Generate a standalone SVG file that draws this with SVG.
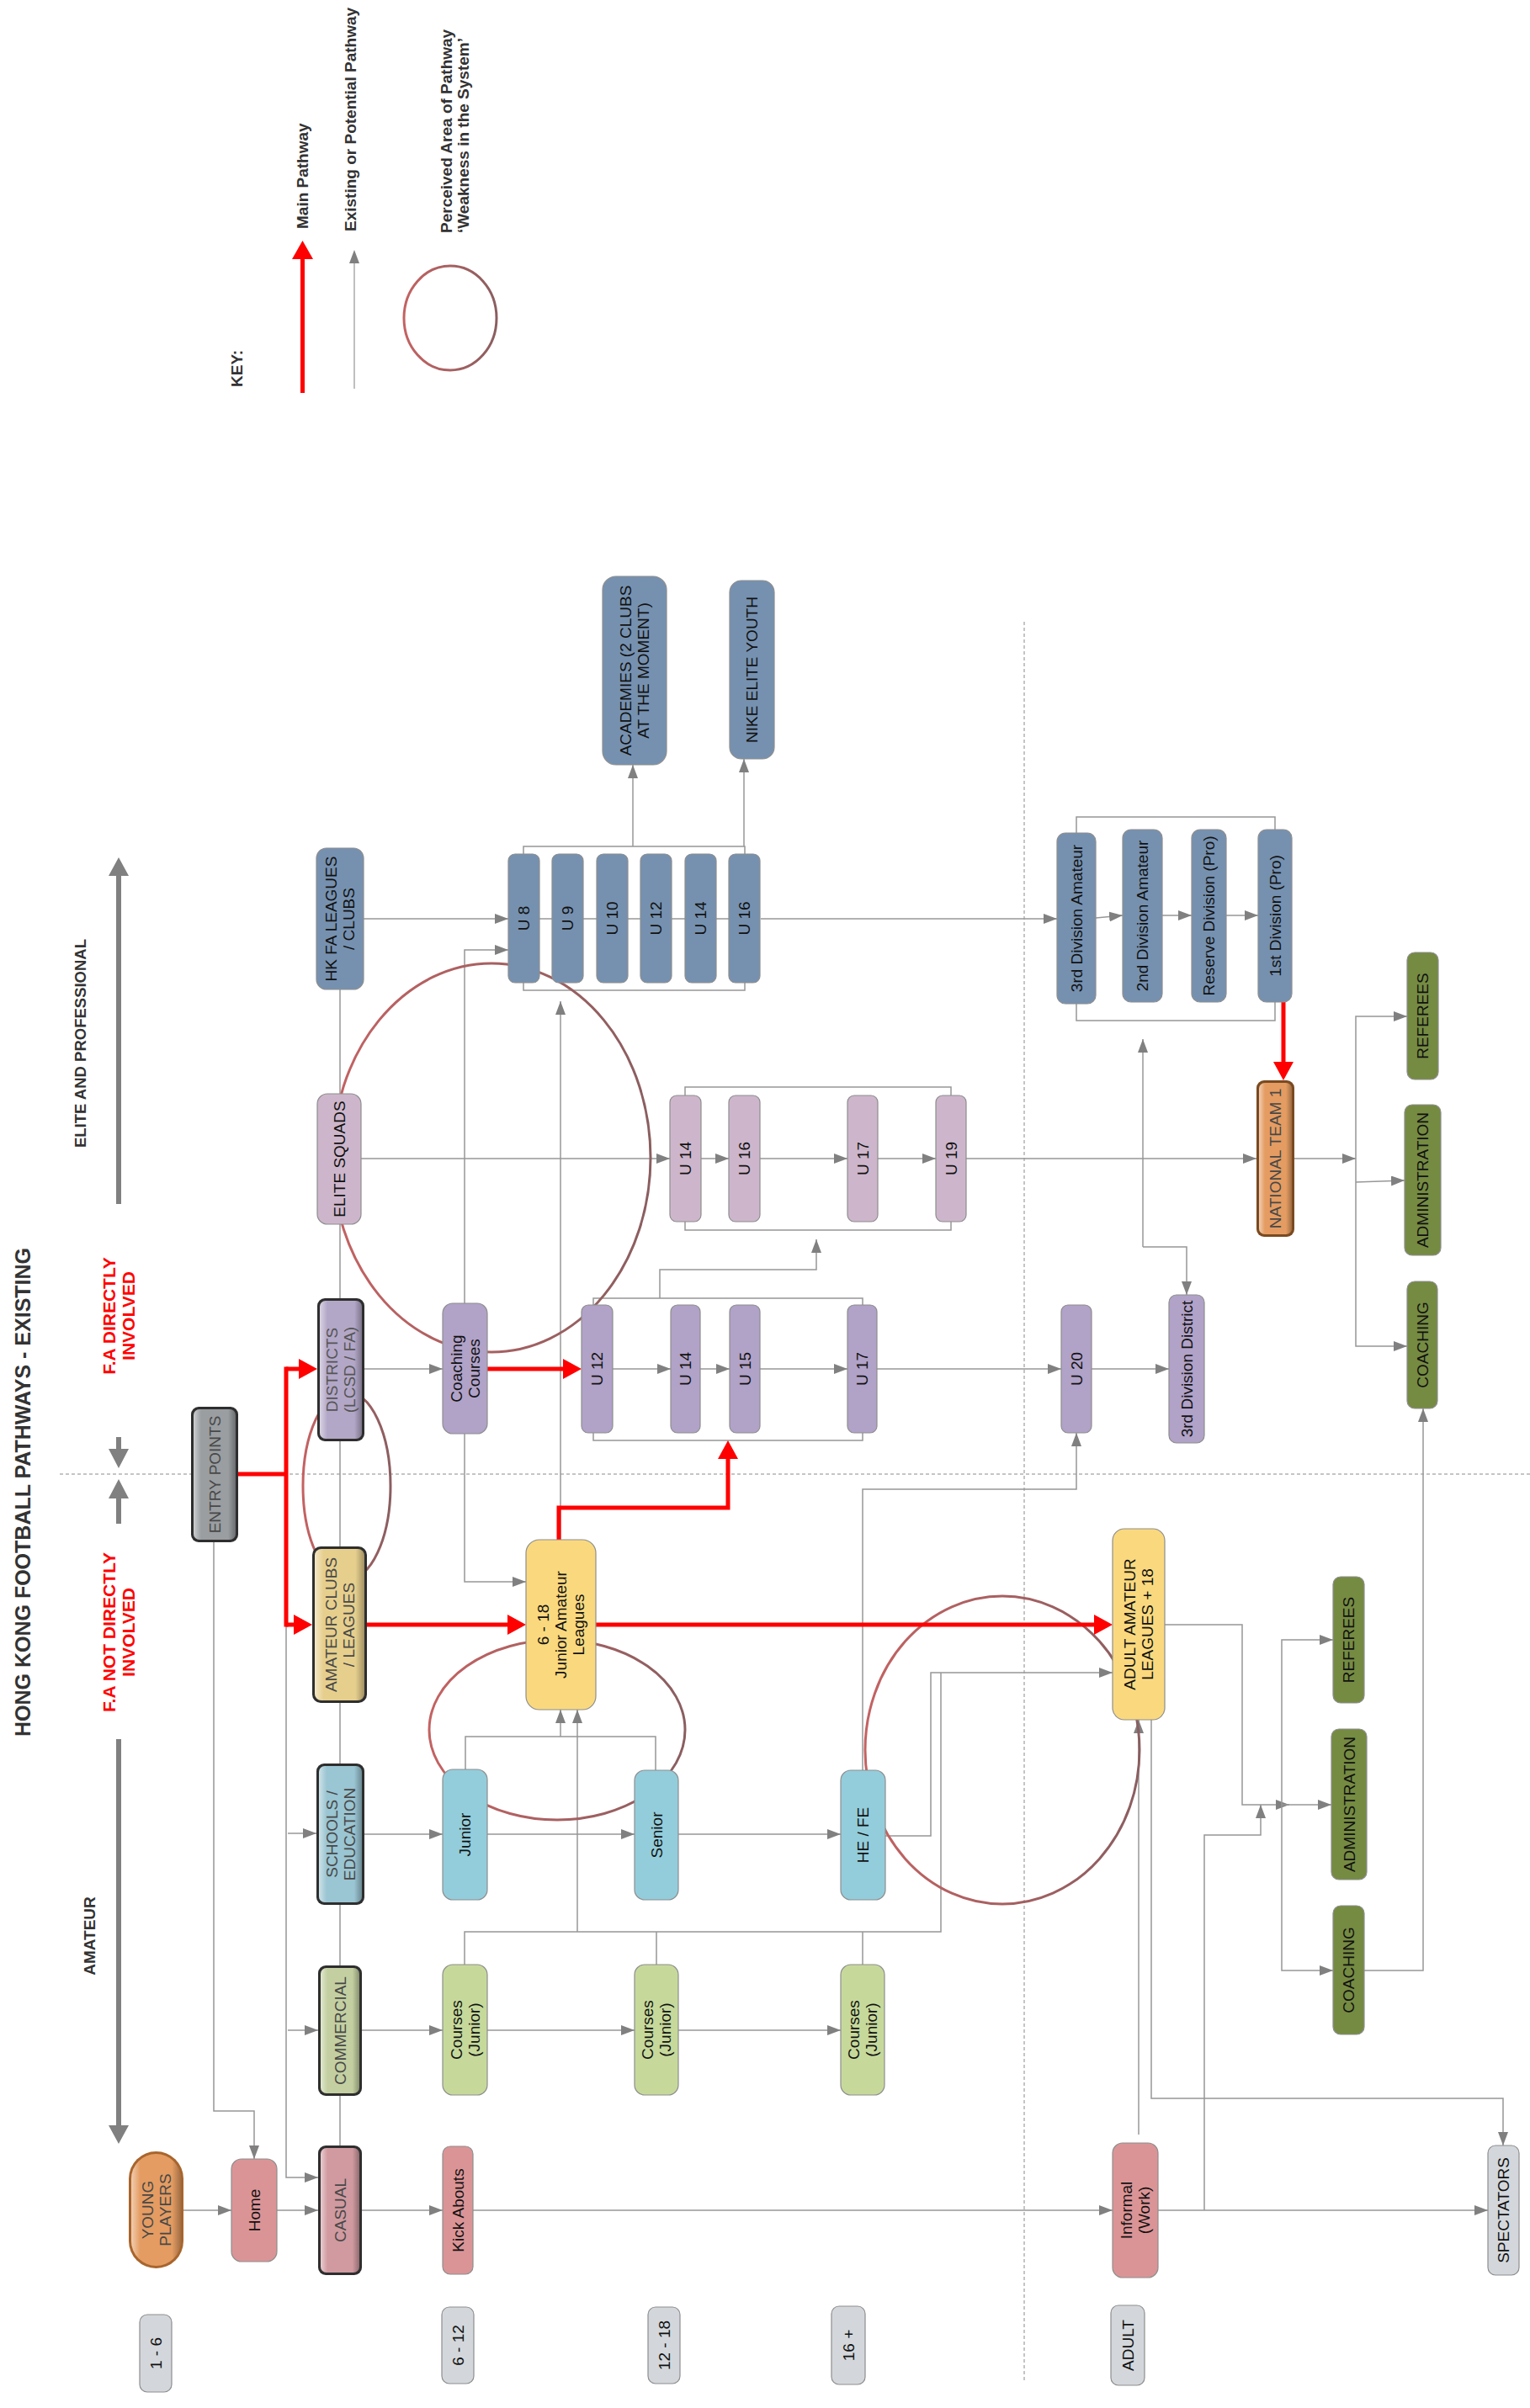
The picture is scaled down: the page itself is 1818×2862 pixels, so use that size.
<svg xmlns="http://www.w3.org/2000/svg" width="1818" height="2862" viewBox="0 0 1818 2862">
<defs>
<style>
text{font-family:'Liberation Sans',Arial,sans-serif;font-size:19px;fill:#111;text-anchor:middle}
.c{fill:none;stroke:#979797;stroke-width:1.5}
.ca{fill:none;stroke:#979797;stroke-width:1.5;marker-end:url(#ag)}
.r{fill:none;stroke:#ff0000;stroke-width:5}
.ra{fill:none;stroke:#ff0000;stroke-width:5;marker-end:url(#ar)}
.w{fill:none;stroke:url(#wk);stroke-width:3}
.d{fill:none;stroke:#8a8a8a;stroke-width:1;stroke-dasharray:4 3}
.n{stroke:#8e8e8e;stroke-width:1.2}
.blue{fill:#7691b0}
.mauve{fill:#cdb6cb}
.purp{fill:#b1a2c8}
.yel{fill:#fad97e}
.grn{fill:#758b42}
.cyan{fill:#93cddb}
.cgrn{fill:#c6d99b}
.pink{fill:#db9496}
.age{fill:#d3d7db}
.bo{fill:#2e2e2e}
.bov{fill:url(#bev)}
.bt{fill:#484848}
.hd{font-weight:bold;fill:#333;text-anchor:start}
.hm{font-weight:bold;fill:#333}
.red{font-weight:bold;fill:#ff0000;font-size:21px}
.ga{fill:#808080}
</style>
<linearGradient id="wk" x1="0" y1="0" x2="1" y2="0"><stop offset="0" stop-color="#c46262"/><stop offset="1" stop-color="#8a5e60"/></linearGradient>
<linearGradient id="bev" x1="0" y1="0" x2="1" y2="0"><stop offset="0" stop-color="#fff" stop-opacity="0.5"/><stop offset="0.18" stop-color="#fff" stop-opacity="0"/><stop offset="0.82" stop-color="#000" stop-opacity="0"/><stop offset="1" stop-color="#000" stop-opacity="0.3"/></linearGradient>
<marker id="ag" markerWidth="16" markerHeight="12" refX="16" refY="6" orient="auto" markerUnits="userSpaceOnUse"><path d="M0,0 L16,6 L0,12 z" fill="#808080"/></marker>
<marker id="ar" markerWidth="22" markerHeight="24" refX="10" refY="12" orient="auto" markerUnits="userSpaceOnUse"><path d="M0,0 L22,12 L0,24 z" fill="#ff0000"/></marker>
</defs>
<rect width="1818" height="2862" fill="#fff"/>

<g id="headers">
<text class="hd" font-size="25" transform="translate(36 2064) rotate(-90)" style="font-size:25px">HONG KONG FOOTBALL PATHWAYS - EXISTING</text>
<text class="hm" transform="translate(102 1240) rotate(-90)" style="font-size:18.5px">ELITE AND PROFESSIONAL</text>
<text class="hm" transform="translate(113 2301) rotate(-90)">AMATEUR</text>
<text class="red" transform="translate(0 1564) rotate(-90)"><tspan x="0" y="137">F.A DIRECTLY</tspan><tspan x="0" y="160">INVOLVED</tspan></text>
<text class="red" transform="translate(0 1940) rotate(-90)"><tspan x="0" y="137">F.A NOT DIRECTLY</tspan><tspan x="0" y="160">INVOLVED</tspan></text>
<path class="ga" d="M138,1431 V1041 H129 L141,1019 L153,1041 H144 V1431 z"/>
<path class="ga" d="M138,1708 V1722 H129 L141,1745 L153,1722 H144 V1708 z"/>
<path class="ga" d="M138,1811 V1781 H129 L141,1758 L153,1781 H144 V1811 z"/>
<path class="ga" d="M138,2067 V2526 H129 L141,2548 L153,2526 H144 V2067 z"/>
</g>

<g id="key">
<text class="hd" transform="translate(288 460) rotate(-90)">KEY:</text>
<path d="M359.5,467 V306" stroke="#ff0000" stroke-width="5" fill="none"/>
<path d="M347,308 L359.5,286 L372,308 z" fill="#ff0000"/>
<path d="M421,462 V312" stroke="#aaaaaa" stroke-width="1.5" fill="none"/>
<path d="M415,313 L421,297 L427,313 z" fill="#808080"/>
<text class="hd" transform="translate(366 272) rotate(-90)">Main Pathway</text>
<text class="hd" transform="translate(423 275) rotate(-90)">Existing or Potential Pathway</text>
<text class="hd" transform="translate(0 277) rotate(-90)"><tspan x="0" y="537">Perceived Area of Pathway</tspan><tspan x="0" y="557">‘Weakness in the System’</tspan></text>
<ellipse class="w" cx="535" cy="378" rx="55" ry="62"/>
</g>

<g id="dividers">
<path class="d" d="M71,1752 H1818"/>
<path class="d" d="M1217,739 V2832"/>
</g>

<g id="connectors">
<path class="ca" d="M218,2627 H275"/>
<path class="ca" d="M329,2627 H378"/>
<path class="ca" d="M430,2627 H526"/>
<path class="ca" d="M562,2627 H1322"/>
<path class="ca" d="M1376,2627 H1768"/>
<path class="ca" d="M254,1833 V2509 H302 V2566"/>
<path class="ca" d="M340,1931 V2588 H378"/>
<path class="ca" d="M342,2179 H376"/>
<path class="ca" d="M342,2413 H378"/>
<path class="c" d="M404,1176 V2550"/>
<path class="ca" d="M432,1092 H604"/>
<path class="c" d="M640,1092 H866"/>
<path class="ca" d="M904,1092 H1256"/>
<path class="c" d="M622,1015 V1006 H885 V1015"/>
<path class="c" d="M622,1168 V1177 H885 V1168"/>
<path class="ca" d="M752,1006 V909"/>
<path class="ca" d="M884,1006 V902"/>
<path class="ca" d="M552,1549 V1129 H604"/>
<path class="ca" d="M552,1704 V1880 H625"/>
<path class="ca" d="M666,1830 V1190"/>
<path class="ca" d="M429,1377 H796"/>
<path class="ca" d="M833,1377 H866"/>
<path class="ca" d="M903,1377 H1007"/>
<path class="ca" d="M1043,1377 H1112"/>
<path class="ca" d="M1148,1377 H1493"/>
<path class="c" d="M814,1302 V1292 H1130 V1302"/>
<path class="c" d="M814,1452 V1462 H1130 V1452"/>
<path class="ca" d="M784,1543 V1509 H970 V1473"/>
<path class="c" d="M705,1551 V1543 H1025 V1551"/>
<path class="c" d="M705,1703 V1712 H1025 V1703"/>
<path class="ca" d="M433,1627 H526"/>
<path class="ca" d="M728,1627 H797"/>
<path class="ca" d="M831,1627 H867"/>
<path class="ca" d="M903,1627 H1007"/>
<path class="ca" d="M1042,1627 H1261"/>
<path class="ca" d="M1297,1627 H1389"/>
<path class="ca" d="M433,2180 H526"/>
<path class="ca" d="M579,2180 H754"/>
<path class="ca" d="M806,2180 H999"/>
<path class="c" d="M553,2103 V2064 H779 V2104"/>
<path class="ca" d="M666,2064 V2032"/>
<path class="ca" d="M686,2296 V2032"/>
<path class="c" d="M552,2335 V2296 H1118 V1988"/>
<path class="c" d="M780,2296 V2335 M1025,2296 V2335"/>
<path class="ca" d="M1052,2182 H1106 V1988 H1322"/>
<path class="ca" d="M430,2413 H526"/>
<path class="ca" d="M579,2413 H754"/>
<path class="ca" d="M806,2413 H999"/>
<path class="ca" d="M1025,2104 V1770 H1279 V1703"/>
<path class="ca" d="M1384,1931 H1476 V2145 H1532"/>
<path class="ca" d="M1523,2145 H1582"/>
<path class="ca" d="M1523,2145 V1949 H1584"/>
<path class="ca" d="M1523,2145 V2342 H1584"/>
<path class="ca" d="M1431,2627 V2181 H1498 V2145"/>
<path class="ca" d="M1621,2342 H1691 V1674"/>
<path class="ca" d="M1353,2537 V2044"/>
<path class="ca" d="M1368,2044 V2494 H1786 V2550"/>
<path class="ca" d="M1538,1377 H1611"/>
<path class="ca" d="M1611,1377 V1208 H1672"/>
<path class="ca" d="M1611,1377 V1600 H1672"/>
<path class="ca" d="M1611,1405 L1669,1403"/>
<path class="c" d="M1279,990 V971 H1515 V986"/>
<path class="c" d="M1279,1193 V1213 H1515 V1191"/>
<path class="ca" d="M1302,1091 L1334,1088"/>
<path class="ca" d="M1381,1088 H1416"/>
<path class="ca" d="M1457,1088 H1495"/>
<path class="ca" d="M1358,1482 V1235"/>
<path class="ca" d="M1358,1482 H1410 V1539"/>
</g>

<g id="weakness">
<ellipse class="w" cx="584" cy="1376" rx="189" ry="231"/>
<ellipse class="w" cx="412" cy="1766" rx="52" ry="112"/>
<ellipse class="w" cx="662" cy="2056" rx="152" ry="107"/>
<ellipse class="w" cx="1191" cy="2080" rx="163" ry="183"/>
</g>

<g id="main-pathway">
<path class="r" d="M283,1752 H340"/>
<path class="r" d="M340,1624.5 V1933.5"/>
<path class="ra" d="M340,1627 H365"/>
<path class="ra" d="M340,1931 H359"/>
<path class="ra" d="M436,1931 H613"/>
<path class="ra" d="M708,1931 H1310"/>
<path class="ra" d="M664,1830 V1792 H865 V1724"/>
<path class="ra" d="M579,1627 H679"/>
<path class="ra" d="M1525,1191 V1272"/>
</g>

<g id="n-entry"><rect class="bo" x="227" y="1672" width="56" height="161" rx="9"/><rect x="230" y="1675" width="50" height="155" rx="7" fill="#9a9ea1"/><rect class="bov" x="230" y="1675" width="50" height="155" rx="7"/><text class="bt" transform="translate(255 1752.5) rotate(-90)" y="6.5">ENTRY POINTS</text></g>
<g id="n-districts"><rect class="bo" x="377" y="1543" width="56" height="170" rx="9"/><rect x="380" y="1546" width="50" height="164" rx="7" fill="#b3a7c7"/><rect class="bov" x="380" y="1546" width="50" height="164" rx="7"/><text class="bt" transform="translate(405 1628) rotate(-90)" style="fill:#555"><tspan x="0" y="-4">DISTRICTS</tspan><tspan x="0" y="17">(LCSD / FA)</tspan></text></g>
<g id="n-amateur"><rect class="bo" x="371" y="1838" width="65" height="186" rx="10"/><rect x="374" y="1841" width="59" height="180" rx="8" fill="#e6cf8d"/><rect class="bov" x="374" y="1841" width="59" height="180" rx="8"/><text class="bt" transform="translate(403.5 1931) rotate(-90)"><tspan x="0" y="-4">AMATEUR CLUBS</tspan><tspan x="0" y="17">/ LEAGUES</tspan></text></g>
<g id="n-schools"><rect class="bo" x="376" y="2096" width="57" height="168" rx="9"/><rect x="379" y="2099" width="51" height="162" rx="7" fill="#9ac5d2"/><rect class="bov" x="379" y="2099" width="51" height="162" rx="7"/><text class="bt" transform="translate(404.5 2180) rotate(-90)"><tspan x="0" y="-4">SCHOOLS /</tspan><tspan x="0" y="17">EDUCATION</tspan></text></g>
<g id="n-commercial"><rect class="bo" x="378" y="2336" width="52" height="155" rx="9"/><rect x="381" y="2339" width="46" height="149" rx="7" fill="#c3cfa0"/><rect class="bov" x="381" y="2339" width="46" height="149" rx="7"/><text class="bt" transform="translate(404 2413.5) rotate(-90)" y="6.5">COMMERCIAL</text></g>
<g id="n-casual"><rect class="bo" x="378" y="2550" width="52" height="154" rx="9"/><rect x="381" y="2553" width="46" height="148" rx="7" fill="#d09aa0"/><rect class="bov" x="381" y="2553" width="46" height="148" rx="7"/><text class="bt" transform="translate(404 2627) rotate(-90)" y="6.5">CASUAL</text></g>
<g id="n-young"><rect x="153" y="2557" width="65" height="139" rx="32.5" fill="#a8652d"/><rect x="156" y="2560" width="59" height="133" rx="29.5" fill="#e49c62"/><rect x="156" y="2560" width="59" height="133" rx="29.5" fill="url(#bev)"/><text class="bt" transform="translate(185.5 2626.5) rotate(-90)"><tspan x="0" y="-4">YOUNG</tspan><tspan x="0" y="17">PLAYERS</tspan></text></g>
<g id="n-national"><rect x="1493" y="1284" width="45" height="186" rx="9" fill="#7a4a20"/><rect x="1496" y="1287" width="39" height="180" rx="7" fill="#e49c62"/><rect class="bov" x="1496" y="1287" width="39" height="180" rx="7"/><text class="bt" transform="translate(1515.5 1377) rotate(-90)" y="6.5">NATIONAL TEAM 1</text></g>

<g id="n-hkfa"><rect class="n blue" x="376" y="1008" width="56" height="168" rx="12"/><text transform="translate(404 1092) rotate(-90)"><tspan x="0" y="-4">HK FA LEAGUES</tspan><tspan x="0" y="17">/ CLUBS</tspan></text></g>
<g id="n-elite"><rect class="n mauve" x="377" y="1300" width="52" height="155" rx="12"/><text transform="translate(403 1377.5) rotate(-90)" y="6.5">ELITE SQUADS</text></g>
<g id="n-u8"><rect class="n blue" x="604" y="1015" width="37" height="153" rx="8"/><text transform="translate(622.5 1091.5) rotate(-90)" y="6.5">U 8</text></g>
<g id="n-u9"><rect class="n blue" x="656" y="1015" width="37" height="153" rx="8"/><text transform="translate(674.5 1091.5) rotate(-90)" y="6.5">U 9</text></g>
<g id="n-u10"><rect class="n blue" x="709" y="1015" width="37" height="153" rx="8"/><text transform="translate(727.5 1091.5) rotate(-90)" y="6.5">U 10</text></g>
<g id="n-u12"><rect class="n blue" x="761" y="1015" width="37" height="153" rx="8"/><text transform="translate(779.5 1091.5) rotate(-90)" y="6.5">U 12</text></g>
<g id="n-u14"><rect class="n blue" x="814" y="1015" width="37" height="153" rx="8"/><text transform="translate(832.5 1091.5) rotate(-90)" y="6.5">U 14</text></g>
<g id="n-u16"><rect class="n blue" x="866" y="1015" width="37" height="153" rx="8"/><text transform="translate(884.5 1091.5) rotate(-90)" y="6.5">U 16</text></g>
<g id="n-academies"><rect class="n blue" x="716" y="685" width="76" height="224" rx="16"/><text transform="translate(754 797) rotate(-90)"><tspan x="0" y="-4">ACADEMIES (2 CLUBS</tspan><tspan x="0" y="17">AT THE MOMENT)</tspan></text></g>
<g id="n-nike"><rect class="n blue" x="867" y="690" width="53" height="212" rx="14"/><text transform="translate(893.5 796) rotate(-90)" y="6.5">NIKE ELITE YOUTH</text></g>
<g id="n-eu14"><rect class="n mauve" x="796" y="1302" width="37" height="150" rx="8"/><text transform="translate(814.5 1377) rotate(-90)" y="6.5">U 14</text></g>
<g id="n-eu16"><rect class="n mauve" x="866" y="1302" width="37" height="150" rx="8"/><text transform="translate(884.5 1377) rotate(-90)" y="6.5">U 16</text></g>
<g id="n-eu17"><rect class="n mauve" x="1007" y="1302" width="36" height="150" rx="8"/><text transform="translate(1025 1377) rotate(-90)" y="6.5">U 17</text></g>
<g id="n-eu19"><rect class="n mauve" x="1112" y="1302" width="36" height="150" rx="8"/><text transform="translate(1130 1377) rotate(-90)" y="6.5">U 19</text></g>
<g id="n-coachcourses"><rect class="n purp" x="526" y="1549" width="53" height="155" rx="12"/><text transform="translate(552.5 1626.5) rotate(-90)"><tspan x="0" y="-4">Coaching</tspan><tspan x="0" y="17">Courses</tspan></text></g>
<g id="n-du12"><rect class="n purp" x="691" y="1551" width="37" height="152" rx="8"/><text transform="translate(709.5 1627) rotate(-90)" y="6.5">U 12</text></g>
<g id="n-du14"><rect class="n purp" x="797" y="1551" width="35" height="152" rx="8"/><text transform="translate(814.5 1627) rotate(-90)" y="6.5">U 14</text></g>
<g id="n-du15"><rect class="n purp" x="867" y="1551" width="36" height="152" rx="8"/><text transform="translate(885 1627) rotate(-90)" y="6.5">U 15</text></g>
<g id="n-du17"><rect class="n purp" x="1007" y="1551" width="35" height="152" rx="8"/><text transform="translate(1024.5 1627) rotate(-90)" y="6.5">U 17</text></g>
<g id="n-u20"><rect class="n purp" x="1261" y="1551" width="36" height="152" rx="8"/><text transform="translate(1279 1627) rotate(-90)" y="6.5">U 20</text></g>
<g id="n-3rddistrict"><rect class="n purp" x="1389" y="1539" width="42" height="176" rx="9"/><text transform="translate(1410 1627) rotate(-90)" y="6.5">3rd Division District</text></g>
<g id="n-3rdamateur"><rect class="n blue" x="1256" y="990" width="46" height="203" rx="10"/><text transform="translate(1279 1091.5) rotate(-90)" y="6.5">3rd Division Amateur</text></g>
<g id="n-2ndamateur"><rect class="n blue" x="1334" y="986" width="47" height="205" rx="10"/><text transform="translate(1357.5 1088.5) rotate(-90)" y="6.5">2nd Division Amateur</text></g>
<g id="n-reserve"><rect class="n blue" x="1416" y="986" width="41" height="205" rx="10"/><text transform="translate(1436.5 1088.5) rotate(-90)" y="6.5">Reserve Division (Pro)</text></g>
<g id="n-1stdiv"><rect class="n blue" x="1495" y="986" width="40" height="205" rx="10"/><text transform="translate(1515 1088.5) rotate(-90)" y="6.5">1st Division (Pro)</text></g>
<g id="n-ref-elite"><rect class="n grn" x="1672" y="1132" width="37" height="151" rx="9"/><text transform="translate(1690.5 1207.5) rotate(-90)" y="6.5">REFEREES</text></g>
<g id="n-admin-elite"><rect class="n grn" x="1669" y="1313" width="43" height="179" rx="9"/><text transform="translate(1690.5 1402.5) rotate(-90)" y="6.5">ADMINISTRATION</text></g>
<g id="n-coach-elite"><rect class="n grn" x="1672" y="1523" width="36" height="151" rx="9"/><text transform="translate(1690 1598.5) rotate(-90)" y="6.5">COACHING</text></g>
<g id="n-junioramateur"><rect class="n yel" x="625" y="1830" width="83" height="202" rx="16"/><text transform="translate(666.5 1931) rotate(-90)"><tspan x="0" y="-14.5">6 - 18</tspan><tspan x="0" y="6.5">Junior Amateur</tspan><tspan x="0" y="27.5">Leagues</tspan></text></g>
<g id="n-adultamateur"><rect class="n yel" x="1322" y="1817" width="62" height="227" rx="14"/><text transform="translate(1353 1930.5) rotate(-90)"><tspan x="0" y="-4">ADULT AMATEUR</tspan><tspan x="0" y="17">LEAGUES + 18</tspan></text></g>
<g id="n-ref-adult"><rect class="n grn" x="1584" y="1874" width="37" height="150" rx="9"/><text transform="translate(1602.5 1949) rotate(-90)" y="6.5">REFEREES</text></g>
<g id="n-admin-adult"><rect class="n grn" x="1582" y="2055" width="42" height="179" rx="9"/><text transform="translate(1603 2144.5) rotate(-90)" y="6.5">ADMINISTRATION</text></g>
<g id="n-coach-adult"><rect class="n grn" x="1584" y="2265" width="37" height="153" rx="9"/><text transform="translate(1602.5 2341.5) rotate(-90)" y="6.5">COACHING</text></g>
<g id="n-junior"><rect class="n cyan" x="526" y="2103" width="53" height="155" rx="12"/><text transform="translate(552.5 2180.5) rotate(-90)" y="6.5">Junior</text></g>
<g id="n-senior"><rect class="n cyan" x="754" y="2104" width="52" height="154" rx="12"/><text transform="translate(780 2181) rotate(-90)" y="6.5">Senior</text></g>
<g id="n-hefe"><rect class="n cyan" x="999" y="2104" width="53" height="154" rx="12"/><text transform="translate(1025.5 2181) rotate(-90)" y="6.5">HE / FE</text></g>
<g id="n-courses1"><rect class="n cgrn" x="526" y="2335" width="53" height="155" rx="12"/><text transform="translate(552.5 2412.5) rotate(-90)"><tspan x="0" y="-4">Courses</tspan><tspan x="0" y="17">(Junior)</tspan></text></g>
<g id="n-courses2"><rect class="n cgrn" x="754" y="2335" width="52" height="155" rx="12"/><text transform="translate(780 2412.5) rotate(-90)"><tspan x="0" y="-4">Courses</tspan><tspan x="0" y="17">(Junior)</tspan></text></g>
<g id="n-courses3"><rect class="n cgrn" x="999" y="2335" width="52" height="155" rx="12"/><text transform="translate(1025 2412.5) rotate(-90)"><tspan x="0" y="-4">Courses</tspan><tspan x="0" y="17">(Junior)</tspan></text></g>
<g id="n-home"><rect class="n pink" x="275" y="2566" width="54" height="122" rx="12"/><text transform="translate(302 2627) rotate(-90)" y="6.5">Home</text></g>
<g id="n-kick"><rect class="n pink" x="526" y="2551" width="36" height="152" rx="9"/><text transform="translate(544 2627) rotate(-90)" y="6.5">Kick Abouts</text></g>
<g id="n-informal"><rect class="n pink" x="1322" y="2547" width="54" height="160" rx="12"/><text transform="translate(1349 2627) rotate(-90)"><tspan x="0" y="-4">Informal</tspan><tspan x="0" y="17">(Work)</tspan></text></g>
<g id="n-spectators"><rect class="n age" x="1768" y="2550" width="37" height="154" rx="9"/><text transform="translate(1786.5 2627) rotate(-90)" y="6.5">SPECTATORS</text></g>
<g id="n-age1"><rect class="n age" x="166" y="2751" width="38" height="92" rx="9"/><text transform="translate(185 2797) rotate(-90)" y="6.5">1 - 6</text></g>
<g id="n-age2"><rect class="n age" x="525" y="2742" width="38" height="91" rx="9"/><text transform="translate(544 2787.5) rotate(-90)" y="6.5">6 - 12</text></g>
<g id="n-age3"><rect class="n age" x="770" y="2742" width="38" height="91" rx="9"/><text transform="translate(789 2787.5) rotate(-90)" y="6.5">12 - 18</text></g>
<g id="n-age4"><rect class="n age" x="988" y="2741" width="40" height="93" rx="9"/><text transform="translate(1008 2787.5) rotate(-90)" y="6.5">16 +</text></g>
<g id="n-age5"><rect class="n age" x="1320" y="2740" width="40" height="95" rx="9"/><text transform="translate(1340 2787.5) rotate(-90)" y="6.5">ADULT</text></g>
</svg>
